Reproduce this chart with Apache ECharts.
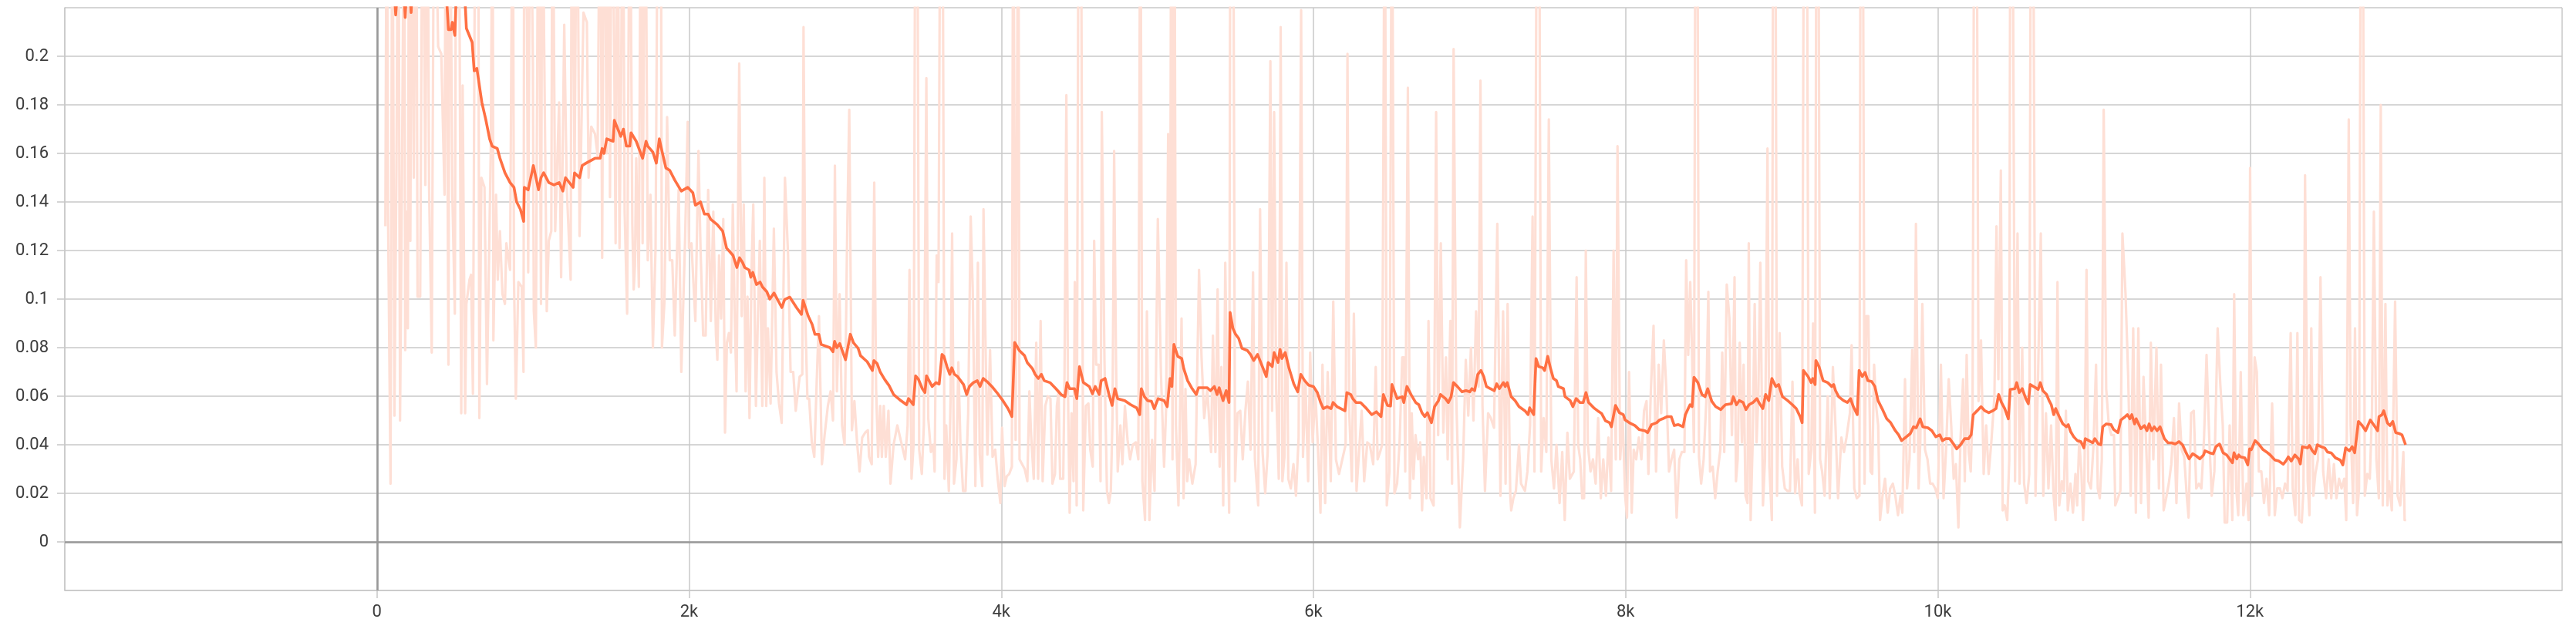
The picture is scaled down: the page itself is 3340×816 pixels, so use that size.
<!DOCTYPE html>
<html>
<head>
<meta charset="utf-8">
<script src="https://cdn.jsdelivr.net/npm/echarts@6/dist/echarts.min.js"></script>
<style>
html,body{margin:0;padding:0;background:#fff;}
#chart{width:3340px;height:816px;}
</style>
</head>
<body>
<div id="chart"></div>
<script>
// x tick labels shown on the axis
const xTickLabels = ['0', '2k', '4k', '6k', '8k', '10k', '12k'];
// y tick labels shown on the axis
const yTickLabels = ['0', '0.02', '0.04', '0.06', '0.08', '0.1', '0.12', '0.14', '0.16', '0.18', '0.2'];

// raw loss (step, value); 0.3 = spike running past the top of the plot
const rawPoints = [
[54,0.130],[63,0.3],[71,0.136],[87,0.024],[99,0.3],[112,0.052],[125,0.155],[137,0.3],[148,0.050],[161,0.155],[175,0.3],[181,0.079],[191,0.136],[198,0.088],[206,0.3],[214,0.124],[224,0.3],[236,0.150],[252,0.3],[260,0.101],[277,0.101],[293,0.3],[310,0.147],[323,0.3],[334,0.146],[351,0.078],[367,0.3],[392,0.204],[412,0.201],[433,0.143],[442,0.3],[458,0.073],[466,0.3],[483,0.143],[499,0.094],[508,0.3],[524,0.3],[540,0.053],[549,0.188],[565,0.053],[573,0.098],[593,0.108],[603,0.110],[615,0.061],[631,0.3],[648,0.3],[656,0.051],[669,0.150],[689,0.146],[705,0.065],[730,0.165],[741,0.3],[746,0.083],[763,0.143],[774,0.108],[788,0.128],[804,0.102],[820,0.098],[829,0.123],[853,0.112],[870,0.3],[878,0.108],[890,0.059],[906,0.107],[928,0.105],[939,0.070],[944,0.3],[961,0.214],[969,0.111],[982,0.3],[999,0.197],[1005,0.095],[1018,0.080],[1035,0.3],[1051,0.098],[1060,0.3],[1071,0.207],[1081,0.142],[1088,0.095],[1101,0.124],[1117,0.128],[1125,0.3],[1142,0.128],[1167,0.181],[1180,0.109],[1200,0.213],[1216,0.146],[1241,0.108],[1249,0.3],[1266,0.150],[1282,0.3],[1298,0.126],[1323,0.218],[1345,0.214],[1356,0.150],[1373,0.171],[1397,0.168],[1414,0.159],[1430,0.3],[1443,0.117],[1455,0.3],[1472,0.160],[1483,0.3],[1493,0.142],[1505,0.3],[1521,0.194],[1529,0.123],[1542,0.3],[1554,0.121],[1565,0.194],[1575,0.3],[1587,0.136],[1603,0.094],[1620,0.3],[1636,0.131],[1645,0.104],[1653,0.114],[1661,0.158],[1678,0.105],[1691,0.3],[1702,0.123],[1719,0.3],[1735,0.116],[1752,0.143],[1768,0.080],[1785,0.121],[1801,0.3],[1818,0.3],[1826,0.080],[1842,0.099],[1859,0.175],[1876,0.116],[1892,0.116],[1908,0.085],[1933,0.145],[1950,0.070],[1974,0.124],[1991,0.173],[1999,0.121],[2015,0.123],[2040,0.091],[2060,0.161],[2073,0.121],[2090,0.085],[2106,0.085],[2122,0.145],[2139,0.091],[2155,0.136],[2172,0.085],
[2181,0.075],[2192,0.118],[2205,0.092],[2219,0.133],[2230,0.045],[2242,0.082],[2255,0.086],[2268,0.078],[2280,0.139],[2291,0.096],[2304,0.062],[2321,0.197],[2337,0.093],[2350,0.139],[2362,0.062],[2374,0.101],[2387,0.051],[2400,0.112],[2411,0.139],[2428,0.056],[2439,0.088],[2453,0.124],[2469,0.056],[2482,0.150],[2494,0.056],[2505,0.088],[2522,0.057],[2543,0.129],[2560,0.070],[2576,0.057],[2593,0.049],[2614,0.150],[2634,0.118],[2650,0.070],[2667,0.070],[2683,0.054],[2708,0.068],[2725,0.069],[2733,0.212],[2746,0.088],[2758,0.059],[2769,0.059],[2786,0.041],[2802,0.035],[2819,0.069],[2832,0.093],[2851,0.032],[2868,0.044],[2889,0.056],[2906,0.062],[2922,0.050],[2934,0.155],[2947,0.062],[2964,0.102],[2980,0.048],[2996,0.040],[3013,0.129],[3026,0.178],[3043,0.046],[3059,0.058],[3076,0.041],[3092,0.029],[3109,0.043],[3128,0.045],[3145,0.046],[3153,0.035],[3170,0.032],[3186,0.148],[3198,0.063],[3211,0.035],[3224,0.056],[3235,0.035],[3247,0.056],[3260,0.035],[3277,0.054],[3290,0.024],[3310,0.040],[3334,0.048],[3359,0.041],[3384,0.034],[3400,0.048],[3412,0.112],[3425,0.026],[3438,0.040],[3450,0.3],[3461,0.3],[3474,0.038],[3491,0.028],[3504,0.048],[3520,0.191],[3532,0.051],[3549,0.037],[3565,0.040],[3573,0.029],[3586,0.118],[3598,0.107],[3610,0.3],[3623,0.3],[3636,0.026],[3647,0.048],[3664,0.021],[3675,0.059],[3685,0.127],[3697,0.024],[3713,0.034],[3725,0.074],[3738,0.041],[3755,0.021],[3771,0.021],[3788,0.053],[3804,0.134],[3817,0.104],[3834,0.023],[3850,0.115],[3862,0.036],[3878,0.023],[3886,0.137],[3900,0.078],[3911,0.036],[3928,0.079],[3944,0.035],[3961,0.038],[3977,0.026],[3994,0.016],[4005,0.047],[4021,0.023],[4035,0.027],[4051,0.028],[4068,0.031],[4076,0.3],[4092,0.042],[4109,0.3],[4117,0.034],[4150,0.030],[4167,0.025],[4180,0.062],[4191,0.044],[4208,0.026],[4224,0.082],[4236,0.026],[4252,0.091],[4265,0.025],[4282,0.056],[4298,0.060],[4315,0.059],[4328,0.024],
[4344,0.028],[4356,0.056],[4367,0.062],[4377,0.026],[4397,0.026],[4405,0.069],[4417,0.184],[4427,0.063],[4438,0.012],[4450,0.053],[4463,0.025],[4471,0.107],[4483,0.015],[4496,0.3],[4509,0.3],[4525,0.013],[4542,0.056],[4558,0.057],[4570,0.038],[4586,0.031],[4595,0.124],[4608,0.073],[4624,0.073],[4636,0.025],[4644,0.177],[4661,0.075],[4677,0.021],[4690,0.016],[4702,0.021],[4713,0.053],[4723,0.161],[4735,0.075],[4746,0.029],[4763,0.048],[4776,0.032],[4792,0.056],[4809,0.042],[4825,0.034],[4842,0.040],[4862,0.041],[4878,0.034],[4891,0.3],[4904,0.025],[4921,0.009],[4933,0.095],[4949,0.009],[4966,0.042],[4982,0.021],[5003,0.133],[5023,0.069],[5043,0.031],[5056,0.055],[5069,0.168],[5081,0.066],[5089,0.3],[5097,0.034],[5109,0.3],[5119,0.048],[5135,0.015],[5155,0.092],[5168,0.018],[5180,0.063],[5191,0.025],[5204,0.034],[5224,0.024],[5245,0.032],[5267,0.112],[5283,0.076],[5300,0.051],[5320,0.063],[5344,0.037],[5356,0.085],[5372,0.037],[5386,0.104],[5399,0.031],[5410,0.072],[5422,0.015],[5435,0.115],[5448,0.056],[5460,0.012],[5468,0.3],[5485,0.3],[5498,0.025],[5514,0.053],[5531,0.054],[5547,0.034],[5564,0.054],[5580,0.066],[5597,0.038],[5613,0.111],[5625,0.034],[5646,0.015],[5658,0.137],[5674,0.037],[5691,0.020],[5707,0.037],[5724,0.198],[5735,0.054],[5748,0.177],[5761,0.063],[5778,0.026],[5790,0.212],[5801,0.025],[5814,0.035],[5827,0.115],[5839,0.026],[5855,0.022],[5872,0.032],[5888,0.019],[5905,0.043],[5921,0.219],[5933,0.035],[5949,0.066],[5966,0.025],[5979,0.078],[5995,0.041],[6012,0.062],[6028,0.040],[6045,0.012],[6058,0.073],[6075,0.016],[6091,0.070],[6111,0.025],[6127,0.099],[6144,0.034],[6164,0.028],[6185,0.034],[6206,0.040],[6218,0.201],[6229,0.054],[6246,0.025],[6259,0.094],[6276,0.021],[6292,0.037],[6309,0.054],[6325,0.025],[6345,0.041],[6361,0.040],[6383,0.032],[6399,0.072],[6411,0.034],[6427,0.037],[6440,0.040],[6457,0.3],[6470,0.015],[6487,0.029],[6503,0.3],
[6519,0.020],[6536,0.024],[6552,0.041],[6569,0.076],[6580,0.076],[6588,0.029],[6605,0.187],[6618,0.018],[6630,0.053],[6641,0.026],[6654,0.044],[6671,0.034],[6684,0.041],[6696,0.013],[6707,0.035],[6724,0.018],[6737,0.091],[6750,0.018],[6770,0.015],[6786,0.177],[6799,0.044],[6816,0.123],[6832,0.045],[6849,0.076],[6860,0.034],[6877,0.091],[6888,0.024],[6898,0.203],[6915,0.059],[6938,0.006],[6959,0.034],[6976,0.075],[6992,0.052],[7009,0.080],[7025,0.050],[7042,0.095],[7058,0.064],[7070,0.190],[7083,0.056],[7099,0.021],[7119,0.053],[7136,0.051],[7157,0.047],[7178,0.131],[7198,0.019],[7215,0.095],[7231,0.024],[7244,0.098],[7261,0.019],[7267,0.013],[7281,0.018],[7297,0.021],[7317,0.040],[7330,0.024],[7355,0.021],[7371,0.029],[7388,0.048],[7404,0.134],[7416,0.029],[7432,0.3],[7445,0.3],[7459,0.029],[7475,0.051],[7492,0.037],[7508,0.174],[7524,0.034],[7541,0.022],[7557,0.040],[7577,0.016],[7594,0.037],[7610,0.009],[7627,0.045],[7643,0.026],[7668,0.029],[7686,0.109],[7696,0.040],[7709,0.034],[7722,0.018],[7734,0.018],[7745,0.120],[7758,0.040],[7775,0.029],[7791,0.034],[7808,0.024],[7824,0.051],[7841,0.018],[7857,0.034],[7874,0.019],[7890,0.043],[7907,0.021],[7923,0.120],[7937,0.034],[7948,0.163],[7965,0.034],[7981,0.051],[7997,0.019],[8009,0.010],[8022,0.070],[8039,0.012],[8052,0.038],[8068,0.034],[8085,0.043],[8101,0.034],[8118,0.054],[8134,0.058],[8146,0.028],[8162,0.063],[8179,0.089],[8195,0.029],[8212,0.073],[8228,0.053],[8245,0.083],[8261,0.063],[8278,0.029],[8294,0.034],[8311,0.038],[8327,0.010],[8344,0.034],[8360,0.037],[8377,0.037],[8388,0.116],[8401,0.077],[8414,0.107],[8426,0.077],[8438,0.037],[8448,0.3],[8459,0.3],[8470,0.035],[8484,0.024],[8500,0.034],[8517,0.058],[8530,0.103],[8541,0.029],[8558,0.031],[8574,0.018],[8590,0.029],[8607,0.038],[8619,0.078],[8632,0.037],[8648,0.106],[8665,0.092],[8681,0.044],[8698,0.109],
[8707,0.025],[8718,0.034],[8731,0.082],[8745,0.041],[8756,0.073],[8768,0.019],[8781,0.016],[8789,0.123],[8801,0.009],[8814,0.041],[8827,0.098],[8839,0.041],[8850,0.059],[8863,0.115],[8880,0.015],[8893,0.034],[8909,0.162],[8921,0.031],[8937,0.009],[8946,0.3],[8959,0.3],[8970,0.019],[8987,0.086],[9003,0.031],[9020,0.022],[9036,0.021],[9053,0.021],[9069,0.066],[9086,0.020],[9102,0.034],[9114,0.020],[9130,0.015],[9143,0.3],[9160,0.3],[9173,0.028],[9190,0.038],[9201,0.090],[9213,0.012],[9223,0.3],[9234,0.3],[9246,0.034],[9259,0.029],[9275,0.019],[9295,0.060],[9308,0.018],[9328,0.072],[9345,0.047],[9361,0.018],[9382,0.043],[9399,0.037],[9415,0.043],[9437,0.053],[9448,0.081],[9465,0.022],[9481,0.018],[9498,0.019],[9506,0.3],[9519,0.3],[9531,0.024],[9542,0.093],[9555,0.093],[9569,0.029],[9580,0.028],[9592,0.073],[9605,0.056],[9618,0.048],[9630,0.009],[9646,0.019],[9662,0.026],[9679,0.012],[9695,0.022],[9712,0.024],[9728,0.019],[9745,0.011],[9761,0.019],[9773,0.012],[9790,0.067],[9803,0.022],[9819,0.034],[9836,0.079],[9849,0.037],[9860,0.131],[9877,0.022],[9888,0.041],[9901,0.098],[9918,0.038],[9934,0.034],[9951,0.024],[9967,0.024],[9984,0.022],[10000,0.018],[10020,0.073],[10037,0.018],[10053,0.038],[10070,0.067],[10086,0.048],[10102,0.026],[10116,0.032],[10132,0.006],[10145,0.041],[10162,0.067],[10173,0.025],[10185,0.077],[10198,0.037],[10211,0.029],[10223,0.055],[10234,0.3],[10248,0.3],[10261,0.058],[10277,0.083],[10294,0.028],[10310,0.048],[10326,0.028],[10343,0.041],[10363,0.060],[10376,0.130],[10388,0.067],[10404,0.153],[10416,0.013],[10429,0.015],[10445,0.009],[10458,0.034],[10465,0.3],[10478,0.3],[10495,0.025],[10511,0.127],[10524,0.024],[10541,0.080],[10553,0.024],[10569,0.016],[10586,0.028],[10597,0.3],[10610,0.3],[10626,0.019],[10643,0.070],[10660,0.127],[10676,0.019],[10693,0.053],[10709,0.022],[10726,0.048],[10742,0.019],[10755,0.009],[10767,0.107],[10778,0.015],[10795,0.025],[10808,0.021],[10821,0.054],[10833,0.013],[10850,0.024],[10866,0.012],
[10882,0.028],[10893,0.015],[10906,0.042],[10920,0.029],[10931,0.009],[10939,0.022],[10953,0.112],[10964,0.025],[10981,0.022],[10997,0.039],[11014,0.073],[11025,0.022],[11038,0.018],[11051,0.034],[11063,0.178],[11079,0.063],[11096,0.048],[11112,0.044],[11129,0.044],[11137,0.015],[11154,0.018],[11170,0.021],[11183,0.127],[11203,0.102],[11220,0.068],[11236,0.019],[11252,0.088],[11269,0.012],[11285,0.088],[11302,0.016],[11318,0.068],[11335,0.040],[11351,0.010],[11365,0.082],[11381,0.034],[11401,0.080],[11417,0.022],[11430,0.073],[11447,0.013],[11463,0.018],[11480,0.024],[11496,0.032],[11513,0.051],[11529,0.016],[11546,0.057],[11562,0.038],[11579,0.035],[11595,0.019],[11607,0.010],[11623,0.053],[11640,0.054],[11656,0.022],[11673,0.024],[11689,0.022],[11706,0.043],[11722,0.077],[11739,0.043],[11755,0.019],[11772,0.029],[11793,0.088],[11810,0.065],[11826,0.048],[11838,0.008],[11854,0.008],[11870,0.048],[11887,0.009],[11899,0.102],[11912,0.022],[11925,0.011],[11941,0.070],[11958,0.011],[11978,0.024],[11991,0.009],[12001,0.154],[12014,0.019],[12030,0.076],[12044,0.070],[12057,0.029],[12073,0.029],[12090,0.016],[12106,0.026],[12123,0.011],[12142,0.057],[12159,0.011],[12175,0.022],[12192,0.022],[12208,0.018],[12225,0.024],[12241,0.021],[12261,0.086],[12274,0.022],[12291,0.011],[12304,0.086],[12315,0.009],[12332,0.008],[12343,0.022],[12353,0.151],[12370,0.025],[12381,0.011],[12393,0.088],[12406,0.019],[12419,0.028],[12436,0.034],[12452,0.109],[12469,0.029],[12488,0.018],[12505,0.034],[12521,0.018],[12538,0.032],[12554,0.018],[12571,0.026],[12587,0.022],[12604,0.026],[12617,0.009],[12633,0.174],[12645,0.048],[12661,0.016],[12673,0.088],[12686,0.011],[12699,0.022],[12711,0.3],[12722,0.3],[12736,0.019],[12752,0.028],[12768,0.026],[12782,0.054],[12794,0.136],[12810,0.034],[12826,0.018],[12838,0.180],[12851,0.015],[12868,0.098],[12881,0.015],[12892,0.025],[12909,0.013],[12930,0.099],[12946,0.019],[12963,0.015],[12983,0.037],[12991,0.009],[13000,0.009]
];

// smoothed loss (step, value)
const smoothPoints = [
[50,0.27],[100,0.24],[120,0.217],[140,0.235],[170,0.23],[181,0.216],[195,0.235],[212,0.225],[219,0.218],[230,0.235],[300,0.26],[400,0.25],[445,0.225],[458,0.211],[475,0.211],[483,0.214],[499,0.2086],[508,0.225],[540,0.235],[565,0.222],[573,0.2115],[610,0.2057],[623,0.194],[640,0.195],[656,0.188],[672,0.181],[697,0.174],[722,0.166],[738,0.163],[771,0.162],[788,0.158],[820,0.152],[853,0.148],[878,0.146],[895,0.140],[919,0.137],[940,0.132],
[944,0.146],[969,0.145],[1002,0.155],[1022,0.149],[1035,0.145],[1051,0.150],[1068,0.152],[1101,0.148],[1134,0.147],[1167,0.148],[1191,0.1445],[1208,0.150],[1257,0.146],[1266,0.152],[1298,0.150],[1315,0.155],[1340,0.156],[1397,0.158],[1430,0.158],[1443,0.162],[1455,0.160],[1472,0.166],[1513,0.165],[1521,0.1736],[1562,0.167],[1579,0.170],[1598,0.163],[1620,0.163],[1628,0.1685],[1661,0.165],[1702,0.158],[1724,0.165],[1735,0.163],[1768,0.1605],[1790,0.156],[1809,0.166],[1826,0.161],[1851,0.154],[1876,0.153],[1908,0.149],[1950,0.1445],[1991,0.146],[2024,0.1438],[2040,0.1387],[2073,0.140],[2098,0.135],[2122,0.135],[2139,0.1328],[2180,0.1307],[2215,0.128],[2240,0.121],[2281,0.118],[2306,0.113],[2323,0.117],[2343,0.115],[2356,0.113],[2384,0.112],[2395,0.109],[2408,0.111],[2432,0.106],[2455,0.107],[2470,0.105],[2498,0.103],[2517,0.100],
[2544,0.1025],[2594,0.0965],[2612,0.0998],[2645,0.1008],[2688,0.0965],[2720,0.0937],[2730,0.0995],[2763,0.093],[2788,0.0896],[2806,0.0855],[2831,0.0855],[2846,0.0813],[2902,0.080],[2922,0.0783],[2932,0.0826],[2947,0.080],[2965,0.0817],[3002,0.075],[3033,0.0855],[3053,0.082],[3083,0.0797],[3098,0.0767],[3141,0.0742],[3174,0.0706],[3184,0.0747],[3204,0.0735],[3224,0.070],[3254,0.0668],[3280,0.0645],[3310,0.0607],[3350,0.0585],[3393,0.0565],[3406,0.059],[3436,0.0565],[3451,0.0684],[3469,0.067],[3494,0.0631],[3511,0.0615],[3521,0.0684],[3557,0.064],[3582,0.0656],[3602,0.065],[3620,0.0772],[3632,0.0765],[3652,0.0722],[3670,0.069],[3683,0.0717],[3700,0.069],[3720,0.0681],[3758,0.0648],[3778,0.0607],[3796,0.064],[3821,0.0656],[3846,0.0664],[3864,0.064],[3884,0.0673],[3909,0.066],[3940,0.064],[3972,0.0615],[4010,0.0582],[4043,0.0549],[4068,0.0516],[4086,0.0821],[4116,0.0788],[4149,0.0767],[4166,0.0739],[4199,0.0714],[4217,0.069],[4237,0.0673],[4257,0.069],[4275,0.0664],[4312,0.0656],[4350,0.0631],[4383,0.0607],[4408,0.0598],[4421,0.0656],[4438,0.0631],[4469,0.0631],[4484,0.059],[4501,0.0722],[4526,0.0656],[4564,0.064],[4584,0.061],[4602,0.064],[4627,0.0607],[4640,0.0664],[4665,0.0673],[4690,0.0607],[4710,0.0562],[4728,0.0631],[4746,0.059],[4791,0.0582],[4829,0.0565],[4867,0.0552],[4887,0.0524],[4897,0.0631],[4917,0.0598],[4937,0.0582],[4962,0.0579],[4980,0.0549],[5005,0.059],[5043,0.0582],[5063,0.0557],[5081,0.0673],[5093,0.064],[5106,0.0813],[5131,0.0764],[5156,0.0755],[5169,0.0714],[5194,0.0664],[5219,0.0635],[5249,0.0607],[5264,0.0635],[5320,0.0635],[5340,0.0623],[5365,0.064],[5383,0.0607],[5396,0.0635],[5421,0.0582],[5441,0.0623],[5459,0.0574],[5466,0.0945],[5484,0.0879],[5501,0.0855],[5521,0.0838],[5542,0.0797],[5577,0.0788],[5597,0.0772],[5617,0.0747],[5642,0.0772],[5673,0.0722],[5698,0.0681],[5710,0.0739],[5736,0.0722],[5748,0.078],[5773,0.0739],[5786,0.0793],[5798,0.0755],[5819,0.078],[5844,0.0714],[5874,0.0651],[5899,0.0618],[5919,0.069],[5944,0.0664],[5970,0.0645],[6000,0.064],[6025,0.0615],[6046,0.0574],[6063,0.0549],[6088,0.0557],[6113,0.0549],[6126,0.0574],[6151,0.0557],[6202,0.054],[6214,0.0615],[6239,0.0607],[6252,0.059],[6272,0.0574],[6302,0.0574],[6340,0.0549],[6373,0.0524],[6403,0.0536],[6433,0.0516],[6448,0.0607],[6474,0.0562],
[6494,0.056],[6503,0.0648],[6536,0.059],[6569,0.0598],[6579,0.0574],[6599,0.064],[6625,0.0607],[6655,0.0574],[6675,0.0565],[6695,0.0532],[6713,0.0516],[6730,0.0532],[6756,0.0491],[6776,0.0557],[6801,0.0582],[6814,0.0607],[6831,0.0598],[6846,0.059],[6864,0.0574],[6882,0.0598],[6897,0.0656],[6922,0.064],[6952,0.0618],[6977,0.0623],[7002,0.0618],[7015,0.0631],[7033,0.0623],[7053,0.069],[7073,0.0706],[7091,0.0681],[7108,0.064],[7133,0.0631],[7159,0.0623],[7174,0.0651],[7191,0.0631],[7217,0.0656],[7229,0.064],[7242,0.0656],[7267,0.0598],[7292,0.0582],[7317,0.0557],[7355,0.054],[7375,0.0524],[7385,0.0552],[7411,0.0524],[7426,0.0755],[7443,0.0722],[7469,0.0717],[7481,0.0706],[7501,0.0764],[7519,0.0714],[7537,0.0673],[7557,0.0664],[7569,0.064],[7602,0.0631],[7612,0.0598],[7645,0.0582],[7662,0.0557],[7683,0.059],[7708,0.0574],[7728,0.0574],[7746,0.0615],[7763,0.0574],[7796,0.0552],[7821,0.054],[7846,0.0529],[7871,0.0499],[7897,0.0491],[7909,0.0474],[7935,0.0562],[7960,0.0532],[7985,0.0524],[7997,0.0502],[8023,0.0491],[8060,0.0479],[8086,0.0463],[8123,0.0458],[8141,0.045],[8166,0.0483],[8199,0.0491],[8217,0.0502],[8237,0.0507],[8267,0.0516],[8292,0.0516],[8312,0.0479],[8338,0.0483],[8368,0.0474],[8383,0.0524],[8401,0.0549],[8413,0.0565],[8426,0.0557],[8438,0.0678],[8463,0.0656],[8489,0.0607],[8509,0.0598],[8526,0.0631],[8552,0.0579],[8577,0.0557],[8610,0.0545],[8627,0.0557],[8640,0.0565],[8678,0.0569],[8690,0.0598],[8710,0.0565],[8728,0.0582],[8753,0.0574],[8771,0.0545],[8791,0.0565],[8816,0.0574],[8841,0.059],[8854,0.0574],[8879,0.0549],[8897,0.0607],[8917,0.0582],[8937,0.0673],[8962,0.064],[8980,0.0648],[9005,0.0598],[9038,0.0582],[9068,0.0565],[9093,0.0549],[9118,0.0516],[9131,0.0491],[9139,0.0706],[9169,0.0681],[9189,0.0656],[9199,0.0673],[9214,0.0648],[9219,0.0747],[9239,0.0722],[9265,0.0664],[9295,0.0656],[9320,0.064],[9333,0.0648],[9345,0.0623],[9365,0.0598],[9396,0.0582],[9421,0.0574],[9441,0.059],[9459,0.0557],[9484,0.0524],[9496,0.0706],[9516,0.0681],[9534,0.0698],[9552,0.0664],[9577,0.066],[9597,0.064],[9617,0.0582],[9643,0.0549],[9673,0.0507],[9698,0.0491],[9728,0.0458],[9749,0.0441],[9768,0.0417],[9793,0.043],[9824,0.0446],[9844,0.0474],[9862,0.047],[9887,0.0507],[9904,0.0474],[9937,0.047],[9962,0.0458],[9987,0.0433],[10013,0.0441],[10030,0.0417],[10050,0.0425],[10076,0.0425],[10101,0.0403],[10121,0.0383],[10146,0.04],[10172,0.0425],[10197,0.0425],[10214,0.0441],[10227,0.0524],[10252,0.054],[10277,0.0557],[10302,0.054],[10327,0.0532],[10352,0.054],[10373,0.0549],[10390,0.0607],[10408,0.0574],
[10429,0.0549],[10452,0.0507],[10464,0.0628],[10494,0.0631],[10506,0.0656],[10522,0.0615],[10541,0.0631],[10564,0.059],[10580,0.0569],[10592,0.0648],[10627,0.0635],[10643,0.0628],[10657,0.0656],[10673,0.0623],[10697,0.0607],[10713,0.0582],[10727,0.0565],[10743,0.0524],[10755,0.0549],[10778,0.0516],[10801,0.0486],[10824,0.0474],[10836,0.0483],[10852,0.0453],[10871,0.0433],[10894,0.0417],[10917,0.0413],[10936,0.0387],[10945,0.0425],[10968,0.0417],[10992,0.0408],[11006,0.0425],[11029,0.0403],[11045,0.040],[11057,0.0474],[11080,0.0486],[11110,0.0483],[11126,0.0463],[11154,0.045],[11173,0.0502],[11201,0.0516],[11215,0.0524],[11231,0.0507],[11243,0.0524],[11261,0.0486],[11271,0.0507],[11301,0.0466],[11324,0.0479],[11340,0.0458],[11354,0.0486],[11370,0.0458],[11387,0.0474],[11405,0.0458],[11424,0.0474],[11452,0.0425],[11475,0.0408],[11498,0.0408],[11521,0.0403],[11545,0.0413],[11568,0.04],[11591,0.0367],[11610,0.0342],[11633,0.0363],[11656,0.0354],[11679,0.0342],[11703,0.0358],[11712,0.0375],[11742,0.0367],[11765,0.0363],[11782,0.0392],[11805,0.0403],[11828,0.0367],[11851,0.0358],[11875,0.0337],[11888,0.0326],[11898,0.0367],[11916,0.0342],[11928,0.0358],[11940,0.035],[11967,0.0346],[11986,0.0317],[11998,0.0383],[12009,0.038],[12033,0.0417],[12056,0.0403],[12084,0.038],[12107,0.037],[12130,0.0358],[12160,0.0337],[12184,0.0333],[12214,0.032],[12230,0.0333],[12246,0.035],[12265,0.0333],[12288,0.0358],[12311,0.0342],[12323,0.0321],[12335,0.0392],[12369,0.0387],[12381,0.0397],[12400,0.0375],[12416,0.0363],[12432,0.040],[12455,0.0392],[12479,0.0387],[12497,0.037],[12520,0.0367],[12548,0.0346],[12579,0.0337],[12595,0.0317],[12613,0.0387],[12637,0.0375],[12655,0.0392],[12671,0.0367],[12695,0.0496],[12718,0.048],[12741,0.0458],[12771,0.0502],[12795,0.048],[12818,0.0458],[12827,0.0516],[12846,0.0524],[12857,0.054],[12881,0.049],[12897,0.0479],[12915,0.0496],[12934,0.045],[12957,0.0446],[12974,0.0441],[12997,0.040]
];

const GRID = '#c8c8c8';
const ZERO = '#999999';
const LABEL = '#3c3c3c';

function fmtX(v) {
  const i = Math.round(v / 2000);
  return (i >= 0 && i < xTickLabels.length) ? xTickLabels[i] : '';
}
function fmtY(v) {
  const i = Math.round(v / 0.02);
  return (i >= 0 && i < yTickLabels.length) ? yTickLabels[i] : '';
}

const chart = echarts.init(document.getElementById('chart'), null, {renderer: 'canvas'});
chart.setOption({
  animation: false,
  backgroundColor: '#ffffff',
  grid: {left: 84, right: 18, top: 10, bottom: 50},
  xAxis: {
    type: 'value', min: -2000, max: 14000, interval: 2000,
    axisLine: {show: true, onZero: false, lineStyle: {color: GRID, width: 1.5}},
    axisTick: {show: true, length: 10, lineStyle: {color: GRID, width: 1.5}},
    axisLabel: {showMinLabel: false, showMaxLabel: false, formatter: fmtX, color: LABEL,
      fontFamily: 'Roboto', fontSize: 22, margin: 17},
    splitLine: {show: true, lineStyle: {color: GRID, width: 1.5}}
  },
  yAxis: {
    type: 'value', min: -0.02, max: 0.22, interval: 0.02,
    axisLine: {show: true, onZero: false, lineStyle: {color: GRID, width: 1.5}},
    axisTick: {show: true, length: 10, lineStyle: {color: GRID, width: 1.5}},
    axisLabel: {showMinLabel: false, showMaxLabel: false, formatter: fmtY, color: LABEL,
      fontFamily: 'Roboto', fontSize: 22, margin: 21},
    splitLine: {show: true, lineStyle: {color: GRID, width: 1.5}}
  },
  series: [
    {
      type: 'line', data: rawPoints, symbol: 'none', silent: true, z: 2,
      lineStyle: {color: '#fedfd5', width: 3.2, join: 'round'},
      markLine: {
        silent: true, symbol: ['none', 'none'], label: {show: false}, animation: false,
        lineStyle: {color: ZERO, width: 2.6, type: 'solid'},
        emphasis: {disabled: true},
        data: [{xAxis: 0}, {yAxis: 0}]
      }
    },
    {
      type: 'line', data: smoothPoints, symbol: 'none', silent: true, z: 3,
      lineStyle: {color: '#ff7043', width: 3.6, join: 'round'}
    }
  ]
});
</script>
</body>
</html>
